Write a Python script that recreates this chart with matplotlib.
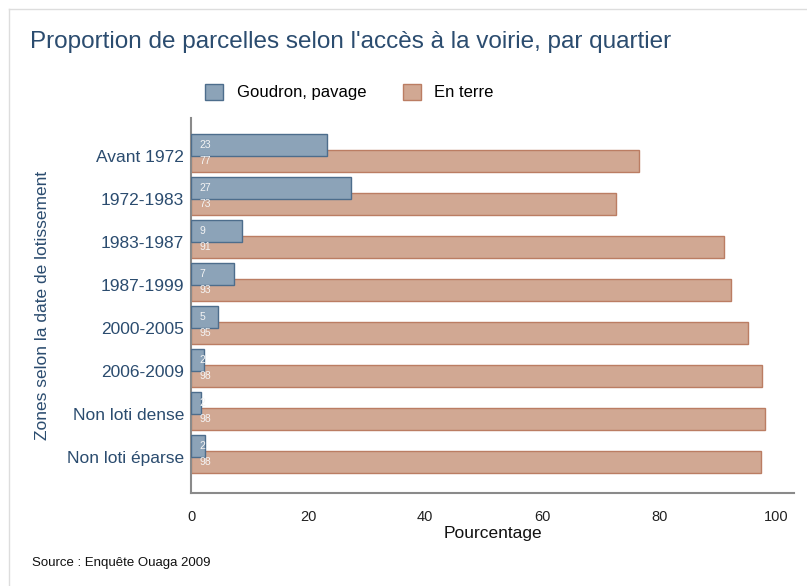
import matplotlib.pyplot as plt
from matplotlib.lines import Line2D
import numpy as np

plt.rcParams['font.family'] = ['Liberation Sans', 'DejaVu Sans']

categories = ["Avant 1972", "1972-1983", "1983-1987", "1987-1999",
              "2000-2005", "2006-2009", "Non loti dense", "Non loti éparse"]
goudron = [23.2, 27.3, 8.7, 7.3, 4.6, 2.2, 1.7, 2.4]
terre = [76.5, 72.6, 91.0, 92.3, 95.1, 97.6, 98.0, 97.4]
goudron_lbl = [23, 27, 9, 7, 5, 2, 2, 2]
terre_lbl = [77, 73, 91, 93, 95, 98, 98, 98]

blue_fc, blue_ec = '#8ca3b8', '#4d6d8c'
tan_fc, tan_ec = '#d1a893', '#bb7d63'
navy = '#2b4c6f'

fig = plt.figure(figsize=(8.07, 5.86), dpi=100)
ax = fig.add_axes([191 / 807, 93 / 586, (794 - 191) / 807, (493 - 118) / 586])

y = np.arange(len(categories))
h = 0.51
ax.barh(y + 0.116, terre, height=h, color=tan_fc, edgecolor=tan_ec, linewidth=1, zorder=2)
ax.barh(y - 0.244, goudron, height=h, color=blue_fc, edgecolor=blue_ec, linewidth=1, zorder=3)

for i in range(len(categories)):
    ax.text(1.5, y[i] - 0.244, str(goudron_lbl[i]), color='#f4f4f4', fontsize=7.5,
            va='center', ha='left', zorder=4)
    ax.text(1.5, y[i] + 0.116, str(terre_lbl[i]), color='#f4f4f4', fontsize=7.5,
            va='center', ha='left', zorder=4)

ax.set_xlim(0, 103)
ax.set_ylim(len(categories) - 1 + 0.84, -0.88)
ax.set_yticks(y)
ax.set_yticklabels(categories, color=navy, fontsize=12.5)
ax.set_xticks([0, 20, 40, 60, 80, 100])
ax.tick_params(axis='x', length=0, pad=12, labelsize=10.5, colors='#222222')
ax.tick_params(axis='y', length=0, pad=5)
for s in ['top', 'right']:
    ax.spines[s].set_visible(False)
for s in ['left', 'bottom']:
    ax.spines[s].set_color('#8a8a8a')
    ax.spines[s].set_linewidth(1.5)

ax.set_xlabel("Pourcentage", fontsize=12.5, color='#111111', labelpad=2)
ax.set_ylabel("Zones selon la date de lotissement", fontsize=12.5, color=navy, labelpad=12)

fig.text(30 / 807, 1 - 42 / 586, "Proportion de parcelles selon l'accès à la voirie, par quartier",
         fontsize=17.5, color=navy, va='center', ha='left')
fig.text(32 / 807, 1 - 563 / 586, "Source : Enquête Ouaga 2009", fontsize=9.5,
         color='#111111', va='center', ha='left')

handles = [plt.Rectangle((0, 0), 1, 1, fc=blue_fc, ec=blue_ec),
           plt.Rectangle((0, 0), 1, 1, fc=tan_fc, ec=tan_ec)]
fig.legend(handles, ["Goudron, pavage", "En terre"], loc='center left',
           bbox_to_anchor=(190 / 807, 1 - 92 / 586), ncol=2, frameon=False,
           fontsize=12, handlelength=1.1, handleheight=1.1, columnspacing=2.2,
           handletextpad=0.8)

fig.add_artist(Line2D([9 / 807, 1], [1 - 9 / 586] * 2, color='#dddddd', lw=1,
                      transform=fig.transFigure))
fig.add_artist(Line2D([9 / 807] * 2, [0, 1 - 9 / 586], color='#dddddd', lw=1,
                      transform=fig.transFigure))

fig.savefig("out.png", dpi=100)
